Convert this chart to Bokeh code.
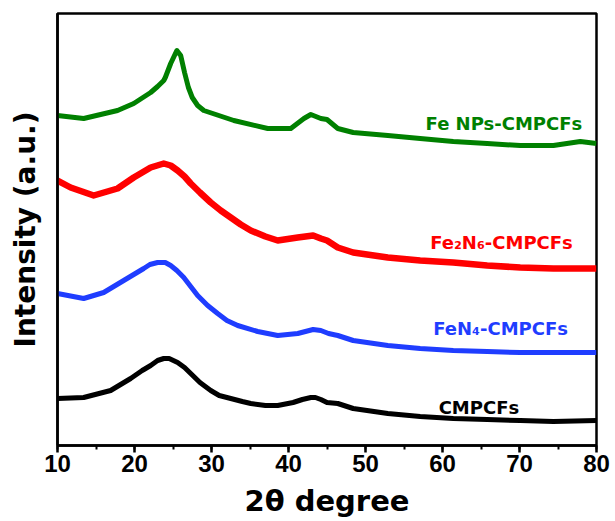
from bokeh.plotting import figure
from bokeh.models import Range1d, SingleIntervalTicker, FixedTicker, Label
from bokeh.embed import file_html
from bokeh.resources import INLINE

# ---- data (2θ in degrees, intensity in arbitrary units) ----
x_cmpcfs = [10, 13.4, 16.9, 19.5, 21, 22.1, 23, 23.8, 24.5, 25.6, 26.5, 27.3, 28.5, 29.9,
            31, 32.5, 34, 35.1, 37, 38.6, 40.6, 41.8, 42.9, 43.5, 44.2, 45, 46.4, 48.4,
            52.9, 57.1, 61.4, 65.8, 70.1, 74.4, 80]
y_cmpcfs = [47, 48, 55, 67, 75, 80, 85, 87, 87, 83, 78, 72, 63, 55,
            50, 47, 44, 42, 40, 40, 43, 46, 48, 48, 46, 43, 42, 37,
            32, 29, 27, 26, 25, 24, 25]

x_fen4 = [10, 13.4, 16, 18.6, 21.2, 22, 23, 24, 24.7, 25.5, 26.4, 27.3, 28.2, 29.5, 30.8,
          32, 33.4, 36, 38.6, 41.2, 43.2, 44.2, 45.2, 46.4, 48.4, 52.9, 57.1, 61.4,
          65.8, 70.1, 74.4, 80]
y_fen4 = [152, 147, 153, 165, 177, 181, 183, 183, 180, 175, 168, 159, 150, 140, 132,
          125, 120, 114, 110, 112, 116, 115, 112, 110, 105, 100, 97, 95,
          94, 93, 93, 93]

x_fe2n6 = [10, 11.7, 14.7, 17.8, 19.9, 21, 22.1, 23.8, 24.7, 25.6, 26.5, 27.3, 28.5,
           29.9, 31.2, 32.5, 33.8, 35.1, 37, 38.6, 41.2, 43.2, 44.2, 45, 46.4, 48.4,
           52.9, 57.1, 61.4, 65.8, 70.1, 74.4, 80]
y_fe2n6 = [265, 258, 250, 257, 268, 273, 278, 282, 280, 275, 269, 262, 253,
           243, 235, 228, 221, 215, 209, 205, 208, 210, 207, 205, 198, 193,
           188, 185, 183, 180, 178, 177, 177]

x_fenps = [10, 13.4, 17.8, 19.9, 20.9, 22.1, 23, 23.8, 24.0, 24.7, 25.5, 26.0, 26.5,
           27.0, 27.5, 28.2, 29, 32.9, 37.3, 40.3, 42, 42.9, 44.2, 45, 46.4, 48.4,
           52.9, 57.1, 61.4, 65.8, 70.1, 74.4, 77.9, 80]
y_fenps = [330, 327, 335, 342, 347, 353, 359, 365, 368, 382, 395, 390, 373,
           358, 348, 340, 335, 325, 317, 317, 327, 331, 327, 326, 317, 313,
           310, 307, 304, 302, 300, 300, 304, 302]

series_names = ["CMPCFs", "FeN\u2084-CMPCFs", "Fe\u2082N\u2086-CMPCFs", "Fe NPs-CMPCFs"]
series_colors = ["#000000", "#1f3dff", "#ff0000", "#008000"]
label_x = [59.5, 58.8, 58.4, 57.8]
label_y = [38, 117, 203, 322]
x_ticks_major = 10

p = figure(width=615, height=521, output_backend="svg", toolbar_location=None,
           x_range=Range1d(10, 80), y_range=Range1d(0, 432),
           min_border_left=57, min_border_right=19, min_border_top=13, min_border_bottom=76)

p.xgrid.visible = False
p.ygrid.visible = False
p.background_fill_color = "white"
p.outline_line_color = "black"
p.outline_line_width = 2.5

xs = [x_cmpcfs, x_fen4, x_fe2n6, x_fenps]
ys = [y_cmpcfs, y_fen4, y_fe2n6, y_fenps]
widths = [5, 5, 6.5, 5]
for xx, yy, c, w in zip(xs, ys, series_colors, widths):
    p.line(xx, yy, line_color=c, line_width=w, line_join="round")

for name, c, lx, ly in zip(series_names, series_colors, label_x, label_y):
    p.add_layout(Label(x=lx, y=ly, text=name, text_color=c, text_font="DejaVu Sans",
                       text_font_style="bold", text_font_size="18px",
                       text_baseline="alphabetic", text_align="left"))

xa = p.xaxis[0]
xa.ticker = SingleIntervalTicker(interval=x_ticks_major, num_minor_ticks=2)
xa.axis_label = "2θ degree"
xa.axis_label_text_font = "DejaVu Sans"
xa.axis_label_text_font_style = "bold"
xa.axis_label_text_font_size = "29px"
xa.axis_label_text_color = "black"
xa.axis_label_standoff = 9
xa.major_label_text_font = "Liberation Sans"
xa.major_label_text_font_style = "bold"
xa.major_label_text_font_size = "24px"
xa.major_label_text_color = "black"
xa.major_label_standoff = 2
xa.axis_line_width = 2.5
xa.major_tick_line_width = 2.5
xa.minor_tick_line_width = 2
xa.major_tick_out = 7
xa.major_tick_in = 0
xa.minor_tick_out = 4
xa.minor_tick_in = 0
xa.minor_tick_line_color = "black"

ya = p.yaxis[0]
ya.ticker = FixedTicker(ticks=[])
ya.axis_label = "Intensity (a.u.)"
ya.axis_label_text_font = "DejaVu Sans"
ya.axis_label_text_font_style = "bold"
ya.axis_label_text_font_size = "28px"
ya.axis_label_text_color = "black"
ya.axis_label_standoff = 16
ya.axis_line_width = 2.5
ya.major_tick_line_color = None
ya.minor_tick_line_color = None

open("out.html", "w").write(file_html(p, INLINE))
